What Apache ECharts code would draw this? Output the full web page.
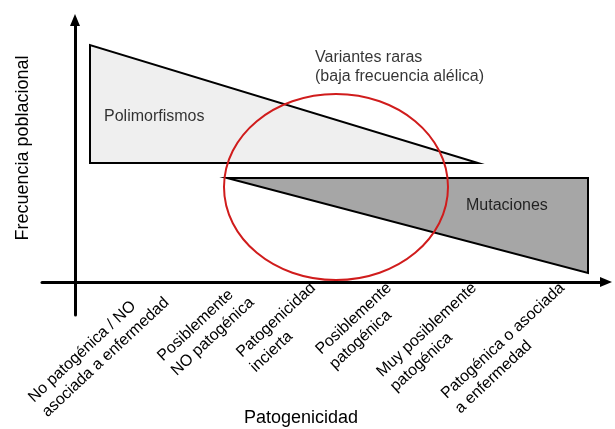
<!DOCTYPE html>
<html>
<head>
<meta charset="utf-8">
<script src="https://cdn.jsdelivr.net/npm/echarts@6/dist/echarts.min.js"></script>
<style>
  html, body { margin: 0; padding: 0; background: #fff; }
  #main { width: 615px; height: 429px; }
</style>
</head>
<body>
<div id="main"></div>
<script>
// categories along the pathogenicity axis and where they sit
var categories = [
  'No patogénica / NO\nasociada a enfermedad',
  'Posiblemente\nNO patogénica',
  'Patogenicidad\nincierta',
  'Posiblemente\npatogénica',
  'Muy posiblemente\npatogénica',
  'Patogénica o asociada\na enfermedad'
];
var categoryPos = [85, 170, 245, 321, 406, 494];

// polygon vertices [x, y]
var polimorfismos = [[15, 237], [15, 119], [403, 119]];
var mutaciones = [[152, 104], [513, 104], [513, 9]];

// rare variants ellipse: [cx, cy, rx, ry]
var variantesRaras = [[261, 95, 112, 93]];

// text annotations
var annotations = [
  { name: 'Polimorfismos', value: [29, 165] },
  { name: 'Mutaciones', value: [391, 76] },
  { name: 'Variantes raras\n(baja frecuencia alélica)', value: [240, 215] }
];

var xTitle = 'Patogenicidad';
var yTitle = 'Frecuencia poblacional';

var font = 'Liberation Sans, Arial, sans-serif';
var myChart = echarts.init(document.getElementById('main'));

function polygonSeries(points, fill) {
  return {
    type: 'custom',
    silent: true,
    data: points,
    renderItem: function (params, api) {
      if (params.dataIndex !== 0) return;
      return {
        type: 'polygon',
        shape: { points: points.map(function (p) { return api.coord(p); }) },
        style: { fill: fill, stroke: '#000', lineWidth: 2 }
      };
    }
  };
}

var option = {
  animation: false,
  grid: { left: 42, right: 9, top: 20, bottom: 114, containLabel: false, outerBoundsMode: 'none' },
  // axis titles
  graphic: [
    {
      type: 'text', x: 301, y: 418, silent: true,
      style: { text: xTitle, font: '18px ' + font, fill: '#000', textAlign: 'center', textVerticalAlign: 'middle' }
    },
    {
      type: 'text', x: 23, y: 148, rotation: Math.PI / 2, silent: true,
      style: { text: yTitle, font: '18px ' + font, fill: '#000', textAlign: 'center', textVerticalAlign: 'middle' }
    }
  ],
  xAxis: {
    type: 'value',
    min: -33,
    max: 531,
    splitLine: { show: false },
    axisTick: { show: false },
    axisLine: {
      onZero: true,
      symbol: ['none', 'triangle'],
      symbolSize: [10, 12],
      lineStyle: { color: '#000', width: 3 }
    },
    axisLabel: {
      customValues: categoryPos,
      rotate: 43,
      margin: -22,
      formatter: function (v) {
        var i = categoryPos.indexOf(v);
        if (i < 0) return '';
        return categories[i].split('\n').map(function (s) { return '{a|' + s + '}'; }).join('\n');
      },
      rich: { a: { fontFamily: font, fontSize: 16, lineHeight: 20, color: '#000', align: 'left' } }
    }
  },
  yAxis: {
    type: 'value',
    min: -33,
    max: 262,
    splitLine: { show: false },
    axisTick: { show: false },
    axisLabel: { show: false },
    axisLine: {
      onZero: true,
      symbol: ['none', 'triangle'],
      symbolSize: [10, 12],
      lineStyle: { color: '#000', width: 3 }
    }
  },
  series: [
    polygonSeries(polimorfismos, '#efefef'),
    polygonSeries(mutaciones, '#a6a6a6'),
    {
      type: 'custom',
      silent: true,
      data: variantesRaras,
      renderItem: function (params, api) {
        var c = api.coord([api.value(0), api.value(1)]);
        var s = api.size([api.value(2), api.value(3)]);
        return {
          type: 'ellipse',
          shape: { cx: c[0], cy: c[1], rx: s[0], ry: s[1] },
          style: { fill: 'none', stroke: '#d01c1c', lineWidth: 2 }
        };
      }
    },
    {
      type: 'scatter',
      silent: true,
      symbolSize: 0,
      data: annotations,
      label: {
        show: true,
        position: 'right',
        distance: 0,
        formatter: '{b}',
        fontFamily: font,
        fontSize: 16,
        lineHeight: 19,
        color: '#000'
      }
    }
  ]
};

myChart.setOption(option);
</script>
</body>
</html>
